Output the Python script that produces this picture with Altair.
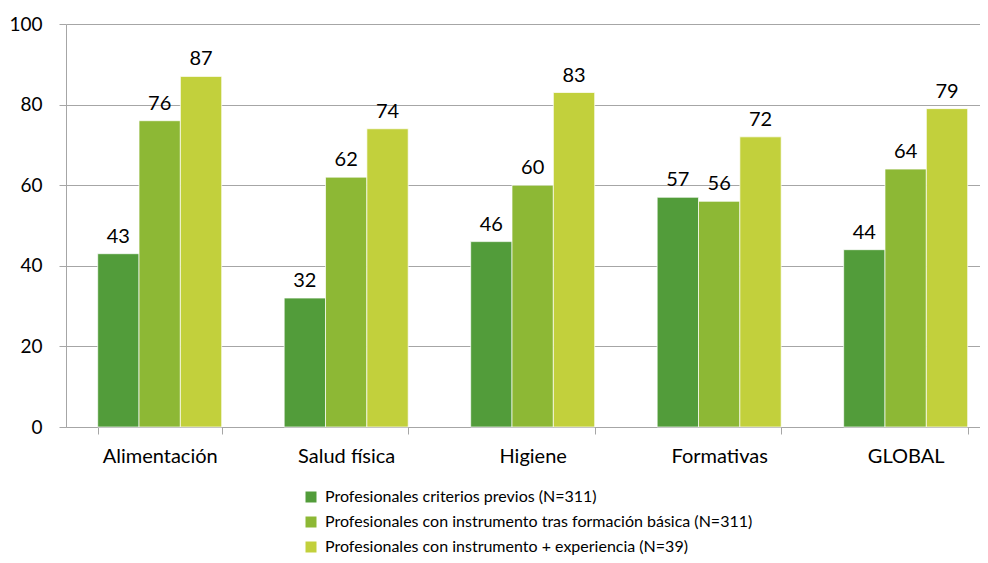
import altair as alt
import pandas as pd

categories = ["Alimentación", "Salud física", "Higiene", "Formativas", "GLOBAL"]
series = [
    "Profesionales criterios previos (N=311)",
    "Profesionales con instrumento tras formación básica (N=311)",
    "Profesionales con instrumento + experiencia (N=39)",
]
criterios_previos = [43, 32, 46, 57, 44]
formacion_basica = [76, 62, 60, 56, 64]
experiencia = [87, 74, 83, 72, 79]
colors = ["#529C3A", "#8DB835", "#C2D03C"]
y_ticks = [0, 20, 40, 60, 80, 100]

rows = []
for vals, s in zip([criterios_previos, formacion_basica, experiencia], series):
    for c, v in zip(categories, vals):
        rows.append({"cat": c, "serie": s, "value": v})
df = pd.DataFrame(rows)

FONT = "Lato"
GRAY = "#A6A6A6"

base = alt.Chart(df).encode(
    x=alt.X(
        "cat:N",
        sort=categories,
        scale=alt.Scale(paddingInner=0.335, paddingOuter=0.118, align=0.72),
        axis=alt.Axis(
            title=None,
            labelAngle=0,
            tickBand="extent",
            grid=False,
            domainColor=GRAY,
            tickColor=GRAY,
            tickSize=7,
            labelFontSize=20,
            labelFont=FONT,
            labelColor="#000000",
            labelPadding=12,
        ),
    ),
    xOffset=alt.XOffset("serie:N", sort=series, scale=alt.Scale(paddingInner=0, paddingOuter=0)),
    y=alt.Y(
        "value:Q",
        scale=alt.Scale(domain=[0, 100], nice=False),
        axis=alt.Axis(
            title=None,
            values=y_ticks,
            grid=True,
            gridColor=GRAY,
            domainColor=GRAY,
            tickColor=GRAY,
            tickSize=7,
            labelFontSize=19,
            labelFont=FONT,
            labelColor="#000000",
            labelPadding=17,
        ),
    ),
)

bars = base.mark_bar(stroke="white", strokeWidth=0.7).encode(
    color=alt.Color(
        "serie:N",
        sort=series,
        scale=alt.Scale(domain=series, range=colors),
        legend=alt.Legend(
            title=None,
            orient="none",
            legendX=237,
            legendY=465,
            direction="vertical",
            symbolType="square",
            symbolSize=121,
            symbolStrokeWidth=0,
            labelFontSize=16,
            labelFont=FONT,
            labelColor="#000000",
            labelOffset=6,
            rowPadding=9,
            labelLimit=700,
        ),
    )
)

labels = base.mark_text(baseline="alphabetic", dy=-11, fontSize=20, font=FONT, color="#000000").encode(
    text="value:Q"
)

chart = (
    alt.layer(bars, labels)
    .properties(
        width=914,
        height=403,
        autosize=alt.AutoSizeParams(type="none"),
        padding={"left": 58, "top": 16, "right": 0, "bottom": 128},
    )
    .configure_view(stroke=None)
)

chart.save("out.html", embed_options={"renderer": "svg", "actions": False})
